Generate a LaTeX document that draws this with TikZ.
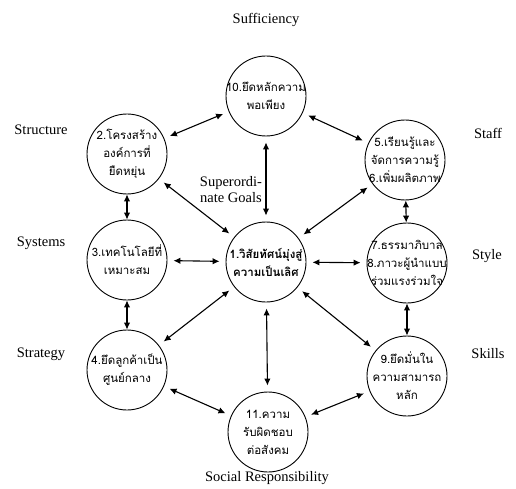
\documentclass[tikz,border=0pt]{standalone}
\usepackage{fontspec}
\setmainfont{Liberation Serif}
\newfontfamily\thaifont[Script=Thai]{Loma}
\usetikzlibrary{arrows.meta}
\newcommand{\tline}[1]{\makebox[56pt]{#1}}
\begin{document}
\begin{tikzpicture}[x=1pt,y=-1pt]
\tikzset{
  disc/.style={circle, draw, line width=0.9pt, minimum size=80pt, inner sep=0pt, align=center,
    font=\thaifont\fontsize{11.5}{18}\selectfont},
  lbl/.style={font=\fontsize{14.5}{16}\selectfont, align=center},
  link/.style={{Latex[length=7pt,width=6.5pt]}-{Latex[length=7pt,width=6.5pt]}, line width=1.1pt,
    shorten >=6pt, shorten <=6pt},
  near/.style={shorten >=0pt, shorten <=0pt}
}
\useasboundingbox (0,0) rectangle (516,489);
% circles
\node[disc] (vision) at (266,262) {\tline{\bfseries 1.วิสัยทัศน์มุ่งสู่}\\\tline{\bfseries ความเป็นเลิศ}};
\node[disc] (suff) at (266,96) {\tline{10.ยึดหลักความ}\\\tline{พอเพียง}};
\node[disc] (struct) at (127,154) {\tline{2.โครงสร้าง}\\\tline{องค์การที่}\\\tline{ยืดหยุ่น}};
\node[disc] (staff) at (405,160) {\tline{5.เรียนรู้และ}\\\tline{จัดการความรู้}\\\tline{6.เพิ่มผลิตภาพ}};
\node[disc] (sys) at (127,260) {\tline{3.เทคโนโลยีที่}\\\tline{เหมาะสม}};
\node[disc] (style) at (407,263) {\tline{7.ธรรมาภิบาล}\\\tline{8.ภาวะผู้นำแบบ}\\\tline{ร่วมแรงร่วมใจ}};
\node[disc] (strat) at (127,370) {\tline{4.ยึดลูกค้าเป็น}\\\tline{ศูนย์กลาง}};
\node[disc] (skill) at (407,376) {\tline{9.ยึดมั่นใน}\\\tline{ความสามารถ}\\\tline{หลัก}};
\node[disc] (social) at (268,432) {\tline{11.ความ}\\\tline{รับผิดชอบ}\\\tline{ต่อสังคม}};
% labels
\node[lbl] (lsuff) at (266,20) {Sufficiency};
\node[lbl] (lstruct) at (41,130) {Structure};
\node[lbl] (lstaff) at (488,133) {Staff};
\node[lbl] (lsys) at (41,243) {Systems};
\node[lbl] (lstyle) at (487,256) {Style};
\node[lbl] (lstrat) at (41,354) {Strategy};
\node[lbl] (lskill) at (488,354) {Skills};
\node[lbl] (lsocial) at (267,478) {Social Responsibility};
\node[lbl] (lgoal) at (231,190) {Superordi-\\nate Goals};
% arrows
\draw[link] (suff) -- (struct);
\draw[link] (suff) -- (staff);
\draw[link] (suff) -- (vision);
\draw[link,near] (struct) -- (sys);
\draw[link] (struct) -- (vision);
\draw[link] (staff) -- (vision);
\draw[link,near] (staff) -- (style);
\draw[link] (sys) -- (vision);
\draw[link] (style) -- (vision);
\draw[link,near] (sys) -- (strat);
\draw[link] (strat) -- (vision);
\draw[link] (skill) -- (vision);
\draw[link,near] (style) -- (skill);
\draw[link] (social) -- (vision);
\draw[link] (strat) -- (social);
\draw[link] (skill) -- (social);
\end{tikzpicture}
\end{document}
